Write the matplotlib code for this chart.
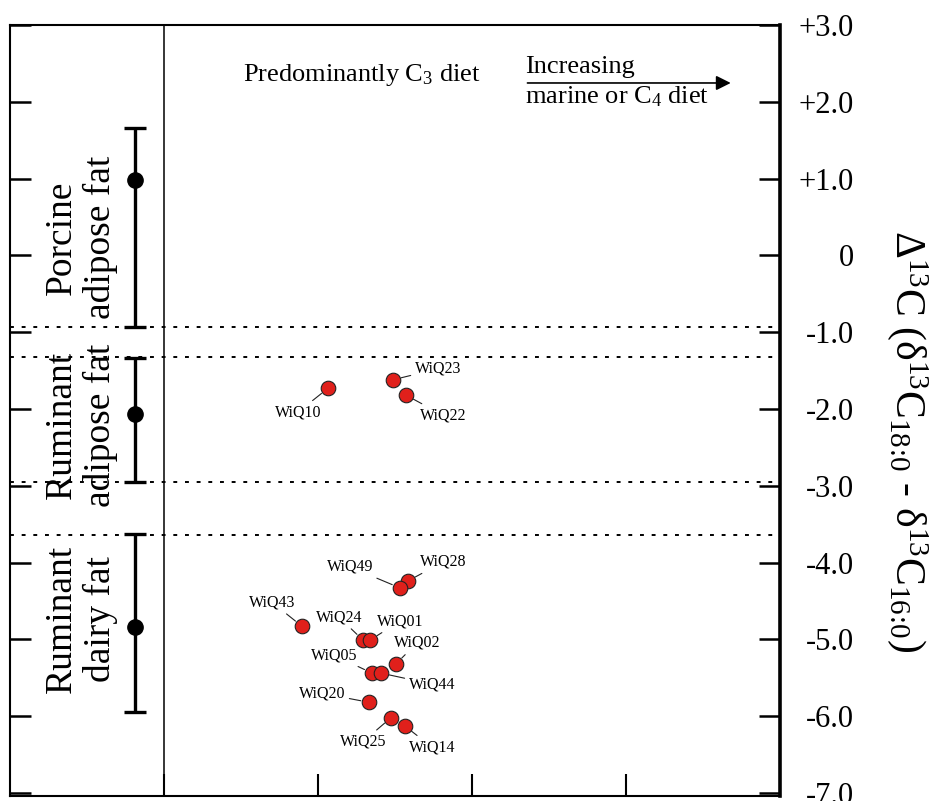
import numpy as np
import matplotlib.pyplot as plt

plt.rcParams['font.family'] = ['Liberation Serif', 'DejaVu Serif']
plt.rcParams['mathtext.fontset'] = 'custom'
plt.rcParams['mathtext.rm'] = 'Liberation Serif'
plt.rcParams['mathtext.it'] = 'Liberation Serif:italic'
plt.rcParams['mathtext.bf'] = 'Liberation Serif:bold'

# Reference ranges (left panel)
ref_names = ['Porcine\nadipose fat', 'Ruminant\nadipose fat', 'Ruminant\ndairy fat']
ref_mid = [0.98, -2.07, -4.84]
ref_low = [-0.93, -2.95, -5.95]
ref_high = [1.66, -1.34, -3.63]
ref_label_y = [0.23, -2.21, -4.73]
boundaries = [-0.93, -1.32, -2.95, -3.64]

# Samples
samples = ['WiQ10', 'WiQ23', 'WiQ22', 'WiQ28', 'WiQ49', 'WiQ43', 'WiQ24',
           'WiQ01', 'WiQ02', 'WiQ05', 'WiQ44', 'WiQ20', 'WiQ25', 'WiQ14']
xpos = [2.065, 2.487, 2.571, 2.584, 2.532, 1.896, 2.292,
        2.338, 2.506, 2.351, 2.409, 2.331, 2.474, 2.565]
delta = [-1.73, -1.62, -1.82, -4.24, -4.33, -4.83, -5.01,
         -5.01, -5.32, -5.44, -5.44, -5.82, -6.02, -6.13]
# label offsets in pixels
lab_dx = [-30, 45, 37, 35, -50, -30, -24, 30, 21, -38, 51, -47, -28, 27]
lab_dy = [-24, 11, -20, 19, 21, 24, 23, 19, 21, 18, -11, 9, -24, -21]

yticks = [3, 2, 1, 0, -1, -2, -3, -4, -5, -6, -7]
yticklabels = ['+3.0', '+2.0', '+1.0', '0', '-1.0', '-2.0', '-3.0',
               '-4.0', '-5.0', '-6.0', '-7.0']

fig = plt.figure(figsize=(9.33, 8.01), dpi=100)
ax = fig.add_axes([10 / 933, 1 - 796 / 801, 770 / 933, 771 / 801])
ax.set_xlim(0, 5)
ax.set_ylim(-7.04, 3.0)

for s in ['top', 'bottom', 'left']:
    ax.spines[s].set_linewidth(1.5)
ax.spines['right'].set_linewidth(2.6)

ax.set_xticks([1, 2, 3, 4])
ax.set_xticklabels([])
ax.tick_params(axis='x', direction='in', length=16, width=1.5, top=False)

ax.set_yticks(yticks)
ax.set_yticklabels(yticklabels)
ax.tick_params(axis='y', direction='in', length=15, width=1.8,
               left=True, right=True, labelleft=False, labelright=True,
               labelsize=22, pad=53)
for t in ax.get_yticklabels():
    t.set_horizontalalignment('right')

# divider between reference and sample panel
ax.axvline(1, color='black', lw=1.1)

for b in boundaries:
    ax.axhline(b, color='black', lw=1.4, dashes=(2, 4))

# reference ranges
for i in range(len(ref_names)):
    ax.errorbar(0.81, ref_mid[i],
                yerr=[[ref_mid[i] - ref_low[i]], [ref_high[i] - ref_mid[i]]],
                fmt='o', color='black', ms=11, lw=2.4, capsize=8, capthick=2.4)
    ax.text(0.46, ref_label_y[i], ref_names[i], rotation=90, ha='center',
            va='center', fontsize=27, linespacing=1.15)

# samples
ax.scatter(xpos, delta, s=110, color='#e0201b', edgecolors='#222222',
           linewidths=0.8, zorder=3)
for i in range(len(samples)):
    ax.annotate(samples[i], (xpos[i], delta[i]),
                xytext=(lab_dx[i] * 0.72, lab_dy[i] * 0.72),
                textcoords='offset points', ha='center', va='center',
                fontsize=11.5,
                arrowprops=dict(arrowstyle='-', color='#222222', lw=0.8,
                                shrinkA=1, shrinkB=6))

ax.text(1.513, 2.35, 'Predominantly C$_3$ diet', ha='left', va='center',
        fontsize=19)
ax.text(3.344, 2.45, 'Increasing', ha='left', va='center', fontsize=19)
ax.text(3.344, 2.06, 'marine or C$_4$ diet', ha='left', va='center',
        fontsize=19)
ax.annotate('', xy=(4.68, 2.245), xytext=(3.36, 2.245),
            arrowprops=dict(arrowstyle='-|>', color='black', lw=1.2,
                            mutation_scale=22, shrinkA=0, shrinkB=0))

fig.text(907 / 933, 1 - 441 / 801,
         r'Δ$^{13}$C (δ$^{13}$C$_{18\!:\!0}$ - δ$^{13}$C$_{16\!:\!0}$)',
         rotation=270, ha='center', va='center', fontsize=30)

fig.savefig('out.png', dpi=100)
